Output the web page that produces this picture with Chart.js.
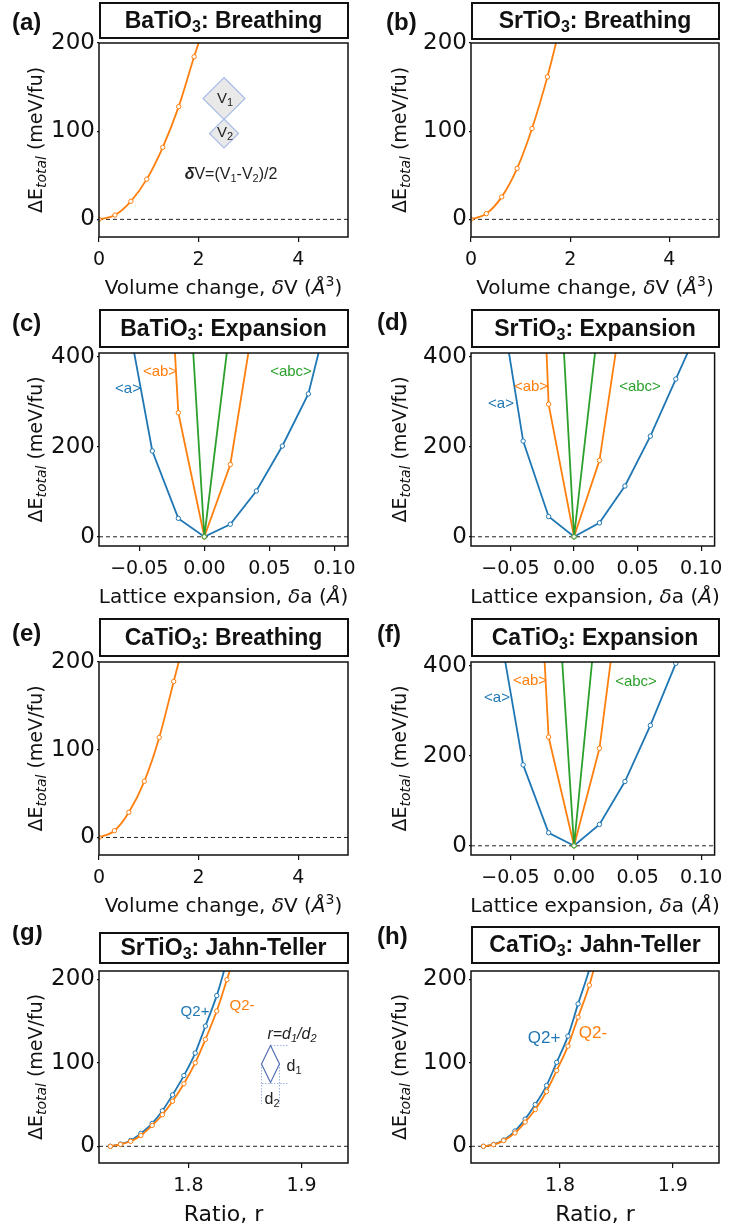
<!DOCTYPE html>
<html>
<head>
<meta charset="utf-8">
<script src="https://cdn.jsdelivr.net/npm/chart.js@4.4.0/dist/chart.umd.min.js"></script>
<style>
  body { margin: 0; background: #fff; width: 730px; height: 1228px; position: relative; overflow: hidden; }
  canvas { position: absolute; }
</style>
</head>
<body>
<script>
// === Datos ===
// Breathing: volume change dV (A^3) vs energy (meV/fu)
const batioBreathX = [0, 0.32, 0.64, 0.96, 1.28, 1.60, 1.91, 2.23];
const batioBreathE = [0, 4.9, 20.5, 45.6, 81.7, 127.8, 184.4, 240];
const srtioBreathX = [0, 0.31, 0.62, 0.93, 1.23, 1.54, 1.85];
const srtioBreathE = [0, 6.5, 25.5, 57.8, 103, 161.6, 231];
const catioBreathX = [0, 0.31, 0.60, 0.91, 1.21, 1.50, 1.80];
const catioBreathE = [0, 7.7, 28.7, 64, 114, 177.8, 244];

// Expansion: lattice expansion da (A) vs energy, directions <a>, <ab>, <abc>
const expAX = [-0.06, -0.04, -0.02, 0, 0.02, 0.04, 0.06, 0.08, 0.10];
const expABX = [-0.04, -0.02, 0, 0.02, 0.04];
const expABCX = [-0.02, 0, 0.02];
const batioExpA = [504, 191, 41, 0, 28, 102, 202, 318, 550];
const batioExpAB = [1300, 276, 0, 161, 519];
const batioExpABC = [963, 0, 474];
const srtioExpA = [565, 213, 45, 0, 31, 113, 224, 351, 477];
const srtioExpAB = [1740, 295, 0, 170, 546];
const srtioExpABC = [1037, 0, 496];
const catioExpA = [506, 180, 29, 0, 47.5, 143, 268, 406, 566];
const catioExpAB = [1310, 242, 0, 217, 655];
const catioExpABC = [883, 0, 578];

// Jahn-Teller: ratio r vs energy, Q2+ and Q2-
const srtioJtX = [1.731, 1.740, 1.749, 1.758, 1.768, 1.777, 1.786, 1.796, 1.806, 1.815, 1.825, 1.834, 1.844];
const srtioJtPlus = [0, 2.6, 7, 15.5, 27.4, 42.5, 61.6, 84.7, 111.7, 144, 180.5, 222, 268];
const srtioJtMinus = [0, 2.4, 6, 13, 25, 37.8, 54, 75, 100, 128, 162, 199.6, 242];
const catioJtX = [1.732, 1.741, 1.750, 1.760, 1.769, 1.778, 1.788, 1.797, 1.807, 1.816, 1.826, 1.835];
const catioJtPlus = [0, 2.2, 7.5, 18.3, 32.6, 50, 72.8, 100.6, 132, 170.6, 212, 258];
const catioJtMinus = [0, 2, 6.8, 16, 29, 44, 65.6, 90.7, 120, 154.7, 193, 238];

// Ticks
const breathXTicks = [0, 2, 4];
const breathXLabels = ['0', '2', '4'];
const expXTicks = [-0.05, 0, 0.05, 0.10];
const expXLabels = ['\u22120.05', '0.00', '0.05', '0.10'];
const jtXTicks = [1.8, 1.9];
const jtXLabels = ['1.8', '1.9'];
const yTicks200 = [0, 100, 200];
const yTicks400 = [0, 200, 400];

// === Estilos ===
const BLUE = '#1f77b4', ORANGE = '#ff7f0e', GREEN = '#2ca02c', INK = '#111';
const XTICK_FONT = { family: 'DejaVu Sans', size: 19 };
const YTICK_FONT = { family: 'DejaVu Sans', size: 23 };
const AX = '19px "DejaVu Sans"';
const AXT = '20px "DejaVu Sans"';
const AXT_I = 'italic 20px "DejaVu Sans"';
const TITLE = 'bold 23px "Liberation Sans"';
const TITLE_SUB = 'bold 16px "Liberation Sans"';
const ANN = '15px "Liberation Sans"';
const ANN_SUB = '11px "Liberation Sans"';

function pts(xs, ys) { return xs.map((x, i) => ({ x: x, y: ys[i] })); }

// texto con subíndices / cursivas: segs = [[texto, fuente, dy], ...]
function rich(ctx, segs, x, y, align) {
    let w = 0;
    segs.forEach(s => { ctx.font = s[1]; w += ctx.measureText(s[0]).width; });
    let cx = align === 'center' ? x - w / 2 : (align === 'right' ? x - w : x);
    ctx.textAlign = 'left';
    ctx.textBaseline = 'middle';
    segs.forEach(s => {
        ctx.font = s[1];
        ctx.fillText(s[0], cx, y + (s[2] || 0));
        cx += ctx.measureText(s[0]).width;
    });
}

function curve(label, xs, ys, color, smooth) {
    return {
        label: label, data: pts(xs, ys), borderColor: color, borderWidth: 1.8,
        pointRadius: 2.2, pointBackgroundColor: '#fff', pointBorderColor: color, pointBorderWidth: 1,
        tension: 0, cubicInterpolationMode: smooth ? 'monotone' : 'default'
    };
}

function zeroLine(xmin, xmax) {
    return {
        label: 'zero', data: [{ x: xmin, y: 0 }, { x: xmax, y: 0 }], borderColor: '#222',
        borderWidth: 1, borderDash: [4, 3], pointRadius: 0
    };
}

const breathXTitle = [['Volume change, ', AXT], ['\u03b4', AXT_I], ['V (', AXT], ['\u00c5', AXT_I], ['3', '14px "DejaVu Sans"', -7], [')', AXT]];
const expXTitle = [['Lattice expansion, ', AXT], ['\u03b4', AXT_I], ['a (', AXT], ['\u00c5', AXT_I], [')', AXT]];
const jtXTitle = [['Ratio, r', '22px "DejaVu Sans"']];

function expLabels(pos) {
    return function (ctx) {
        ctx.fillStyle = BLUE; rich(ctx, [['<a>', ANN]], pos[0][0], pos[0][1], 'center');
        ctx.fillStyle = ORANGE; rich(ctx, [['<ab>', ANN]], pos[1][0], pos[1][1], 'center');
        ctx.fillStyle = GREEN; rich(ctx, [['<abc>', ANN]], pos[2][0], pos[2][1], 'center');
    };
}

function jtLabels(p, m, font) {
    return function (ctx) {
        ctx.fillStyle = BLUE; rich(ctx, [['Q2+', font]], p[0], p[1], 'center');
        ctx.fillStyle = ORANGE; rich(ctx, [['Q2-', font]], m[0], m[1], 'center');
    };
}

function diamond(ctx, cx, cy, hw, hh) {
    ctx.beginPath();
    ctx.moveTo(cx, cy - hh); ctx.lineTo(cx + hw, cy); ctx.lineTo(cx, cy + hh); ctx.lineTo(cx - hw, cy);
    ctx.closePath();
}

const panels = [
    { tag: '(a)', comp: 'BaTiO', kind: ': Breathing', L: 99, R: 348, T: 43, B: 237, box: [3, 38], lab: [12, 23],
      xr: [0, 5], yr: [-20, 200], xt: breathXTicks, xl: breathXLabels, yt: yTicks200, xtitle: breathXTitle,
      sets: [curve('BaTiO3', batioBreathX, batioBreathE, ORANGE, true)],
      extra: function (ctx) {
          ctx.fillStyle = '#e9e9e9'; ctx.strokeStyle = '#a8bde6'; ctx.lineWidth = 1.2;
          diamond(ctx, 224, 98.5, 21, 21); ctx.fill(); ctx.stroke();
          diamond(ctx, 224, 133.5, 14.5, 14.5); ctx.fill(); ctx.stroke();
          ctx.fillStyle = '#222';
          rich(ctx, [['V', ANN], ['1', ANN_SUB, 4]], 225, 99, 'center');
          rich(ctx, [['V', ANN], ['2', ANN_SUB, 4]], 225, 133, 'center');
          rich(ctx, [['\u03b4', 'bold italic 16px "Liberation Sans"'], ['V=(V', '16px "Liberation Sans"'], ['1', ANN_SUB, 4], ['-V', '16px "Liberation Sans"'], ['2', ANN_SUB, 4], [')/2', '16px "Liberation Sans"']], 231, 175, 'center');
      } },
    { tag: '(b)', comp: 'SrTiO', kind: ': Breathing', L: 471, R: 719, T: 43, B: 237, box: [3, 39], lab: [386, 23],
      xr: [0, 5], yr: [-20, 200], xt: breathXTicks, xl: breathXLabels, yt: yTicks200, xtitle: breathXTitle,
      sets: [curve('SrTiO3', srtioBreathX, srtioBreathE, ORANGE, true)] },
    { tag: '(c)', comp: 'BaTiO', kind: ': Expansion', L: 99, R: 348, T: 353, B: 546, box: [310, 347], lab: [12, 324],
      xr: [-0.081, 0.1105], yr: [-20.5, 409], xt: expXTicks, xl: expXLabels, yt: yTicks400, xtitle: expXTitle,
      sets: [curve('<abc>', expABCX, batioExpABC, GREEN), curve('<ab>', expABX, batioExpAB, ORANGE), curve('<a>', expAX, batioExpA, BLUE)],
      extra: expLabels([[128, 389], [160, 372], [291, 372]]) },
    { tag: '(d)', comp: 'SrTiO', kind: ': Expansion', L: 471, R: 719, T: 353, B: 546, box: [310, 347], lab: [377, 323],
      xr: [-0.081, 0.1105], yr: [-20.5, 409], xt: expXTicks, xl: expXLabels, yt: yTicks400, xtitle: expXTitle,
      sets: [curve('<abc>', expABCX, srtioExpABC, GREEN), curve('<ab>', expABX, srtioExpAB, ORANGE), curve('<a>', expAX, srtioExpA, BLUE)],
      extra: expLabels([[501, 404], [531, 387], [640, 387]]) },
    { tag: '(e)', comp: 'CaTiO', kind: ': Breathing', L: 99, R: 348, T: 662, B: 855, box: [619, 656], lab: [12, 634],
      xr: [0, 5], yr: [-20, 200], xt: breathXTicks, xl: breathXLabels, yt: yTicks200, xtitle: breathXTitle,
      sets: [curve('CaTiO3', catioBreathX, catioBreathE, ORANGE, true)] },
    { tag: '(f)', comp: 'CaTiO', kind: ': Expansion', L: 471, R: 719, T: 662, B: 855, box: [619, 656], lab: [377, 635],
      xr: [-0.081, 0.1105], yr: [-20.5, 409], xt: expXTicks, xl: expXLabels, yt: yTicks400, xtitle: expXTitle,
      sets: [curve('<abc>', expABCX, catioExpABC, GREEN), curve('<ab>', expABX, catioExpAB, ORANGE), curve('<a>', expAX, catioExpA, BLUE)],
      extra: expLabels([[497, 698], [530, 681], [636, 682]]) },
    { tag: '(g)', comp: 'SrTiO', kind: ': Jahn-Teller', L: 99, R: 348, T: 971, B: 1163, box: [933, 963], lab: [12, 933],
      xr: [1.721, 1.941], yr: [-20, 210], xt: jtXTicks, xl: jtXLabels, yt: yTicks200, xtitle: jtXTitle,
      sets: [curve('Q2-', srtioJtX, srtioJtMinus, ORANGE, true), curve('Q2+', srtioJtX, srtioJtPlus, BLUE, true)],
      extra: function (ctx) {
          jtLabels([195, 1012], [242, 1006], ANN)(ctx);
          ctx.fillStyle = '#222';
          rich(ctx, [['r=d', 'italic 16px "Liberation Sans"'], ['1', 'italic 11px "Liberation Sans"', 4], ['/d', 'italic 16px "Liberation Sans"'], ['2', 'italic 11px "Liberation Sans"', 4]], 292, 1035, 'center');
          ctx.strokeStyle = '#9fb3e0'; ctx.lineWidth = 1; ctx.setLineDash([1.5, 1.5]);
          ctx.beginPath();
          ctx.moveTo(271, 1045.5); ctx.lineTo(289, 1045.5);
          ctx.moveTo(262, 1083.5); ctx.lineTo(289, 1083.5);
          ctx.moveTo(261.5, 1064); ctx.lineTo(261.5, 1104);
          ctx.moveTo(279.5, 1064); ctx.lineTo(279.5, 1104);
          ctx.stroke();
          ctx.setLineDash([]);
          ctx.strokeStyle = '#5470b0'; ctx.lineWidth = 1.2;
          diamond(ctx, 270.5, 1064, 9, 18.5); ctx.stroke();
          rich(ctx, [['d', '16px "Liberation Sans"'], ['1', ANN_SUB, 4]], 294, 1067, 'center');
          rich(ctx, [['d', '16px "Liberation Sans"'], ['2', ANN_SUB, 4]], 272, 1100, 'center');
      } },
    { tag: '(h)', comp: 'CaTiO', kind: ': Jahn-Teller', L: 471, R: 719, T: 971, B: 1163, box: [927, 963], lab: [377, 937],
      xr: [1.721, 1.941], yr: [-20, 210], xt: jtXTicks, xl: jtXLabels, yt: yTicks200, xtitle: jtXTitle,
      sets: [curve('Q2-', catioJtX, catioJtMinus, ORANGE, true), curve('Q2+', catioJtX, catioJtPlus, BLUE, true)],
      extra: jtLabels([544, 1038], [593, 1033], '17px "Liberation Sans"') }
];

// === Un gráfico por panel ===
panels.forEach(function (p) {
    const ox = p.L - 99, oy = p.T - 46;
    const cw = Math.min(p.R + 16, 730) - ox, ch = p.B + 66 - oy;
    const canvas = document.createElement('canvas');
    canvas.width = cw; canvas.height = ch;
    canvas.style.left = ox + 'px'; canvas.style.top = oy + 'px';
    document.body.appendChild(canvas);

    const decor = {
        id: 'decor',
        afterDraw: function (chart) {
            const ctx = chart.ctx, a = chart.chartArea;
            ctx.save();
            // marco completo
            ctx.strokeStyle = INK; ctx.lineWidth = 1.5;
            ctx.strokeRect(a.left, a.top, a.right - a.left, a.bottom - a.top);
            ctx.translate(-ox, -oy);
            // caja del título
            ctx.lineWidth = 2;
            ctx.strokeRect(p.L + 1, p.box[0], p.R - p.L - 1, p.box[1] - p.box[0]);
            ctx.fillStyle = INK;
            rich(ctx, [[p.comp, TITLE], ['3', TITLE_SUB, 6], [p.kind, TITLE]], (p.L + p.R) / 2, (p.box[0] + p.box[1]) / 2 + 1, 'center');
            rich(ctx, [[p.tag, 'bold 24px "Liberation Sans"']], p.lab[0], p.lab[1], 'left');
            // títulos de ejes
            rich(ctx, p.xtitle, (p.L + p.R) / 2, p.B + 52, 'center');
            ctx.save();
            ctx.translate(p.L < 200 ? 37 : 401, (p.T + p.B) / 2);
            ctx.rotate(-Math.PI / 2);
            rich(ctx, [['\u0394E', AX], ['total', 'italic 14px "DejaVu Sans"', 5], [' (meV/fu)', AX]], 0, 0, 'center');
            ctx.restore();
            if (p.extra) p.extra(ctx);
            ctx.restore();
        }
    };

    new Chart(canvas, {
        type: 'line',
        data: { datasets: p.sets.concat([zeroLine(p.xr[0], p.xr[1])]) },
        options: {
            responsive: false, animation: false, events: [],
            layout: { padding: { left: 0, top: p.T - oy, right: cw + ox - p.R, bottom: 0 } },
            plugins: { legend: { display: false }, tooltip: { enabled: false } },
            scales: {
                x: {
                    type: 'linear', min: p.xr[0], max: p.xr[1],
                    afterBuildTicks: s => { s.ticks = p.xt.map(v => ({ value: v })); },
                    afterFit: s => { s.height = oy + ch - p.B; },
                    ticks: { font: XTICK_FONT, color: INK, padding: 7, maxRotation: 0, autoSkip: false,
                             callback: (v, i) => p.xl[i] },
                    grid: { drawOnChartArea: false, tickLength: 5, color: INK, lineWidth: 1.2 },
                    border: { display: false }
                },
                y: {
                    type: 'linear', min: p.yr[0], max: p.yr[1],
                    afterBuildTicks: s => { s.ticks = p.yt.map(v => ({ value: v })); },
                    afterFit: s => { s.width = p.L - ox; },
                    ticks: { font: YTICK_FONT, color: INK, padding: 2, callback: v => String(v) },
                    grid: { drawOnChartArea: false, tickLength: 2, color: INK, lineWidth: 1.2 },
                    border: { display: false }
                }
            }
        },
        plugins: [decor]
    });
});
</script>
</body>
</html>
